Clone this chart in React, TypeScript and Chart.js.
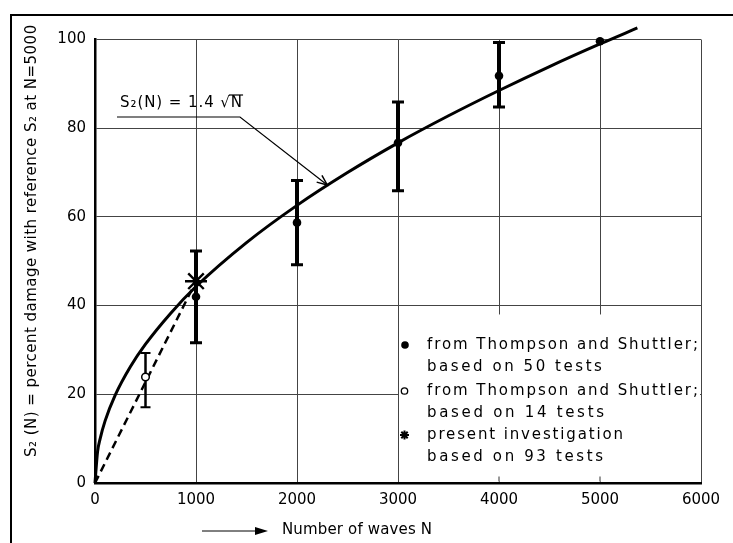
import React, { useEffect, useRef } from "react";
import { Chart, registerables } from "chart.js";

Chart.register(...registerables);

// ---- data ----
const curveN = [0, 25, 50, 100, 200, 350, 500, 750, 1000, 1500, 2000, 2500, 3000, 3500, 4000, 4500, 5000, 5370];
const curveS = [0, 7, 9.9, 14, 19.8, 26.2, 31.3, 38.3, 44.3, 54.2, 62.6, 70, 76.7, 82.8, 88.5, 93.9, 99, 102.6];

const dashN = [0, 1000];
const dashS = [0, 45.5];

const filledN = [1000, 2000, 3000, 4000, 5000];
const filledS = [42, 58.7, 76.7, 91.8, 99.6];
const filledLow = [31.6, 49.2, 65.9, 84.8, null];
const filledHigh = [52.3, 68.2, 85.9, 99.3, null];

const openN = [500];
const openS = [23.9];
const openLow = [17.1];
const openHigh = [29.3];

const starN = [1000];
const starS = [45.5];

const xTicks = [0, 1000, 2000, 3000, 4000, 5000, 6000];
const yTicks = [0, 20, 40, 60, 80, 100];

const curveLabel = "S₂(N) = 1.4 √N";
const arrowTipN = 2300;
const arrowTipS = 67.2;

const xTitle = "Number of waves N";
const yTitle = "S₂ (N) = percent damage with reference S₂ at N=5000";

const legendLines = [
  "from Thompson and Shuttler;",
  "based on 50 tests",
  "from Thompson and Shuttler;",
  "based on 14 tests",
  "present investigation",
  "based on 93 tests",
];

const FONT = "'DejaVu Sans', sans-serif";

function spacedText(ctx: CanvasRenderingContext2D, text: string, x: number, y: number, width: number) {
  (ctx as any).letterSpacing = "0px";
  const w = ctx.measureText(text).width;
  const n = Array.from(text).length;
  const gap = n > 1 ? (width - w) / (n - 1) : 0;
  (ctx as any).letterSpacing = gap.toFixed(2) + "px";
  ctx.fillText(text, x, y);
  return gap;
}

function drawAsterisk(ctx: CanvasRenderingContext2D, cx: number, cy: number, r: number, lw: number) {
  ctx.save();
  ctx.lineWidth = lw;
  ctx.strokeStyle = "#000";
  ctx.beginPath();
  for (let i = 0; i < 4; i++) {
    const a = (i * Math.PI) / 4;
    ctx.moveTo(cx - r * Math.cos(a), cy - r * Math.sin(a));
    ctx.lineTo(cx + r * Math.cos(a), cy + r * Math.sin(a));
  }
  ctx.stroke();
  ctx.restore();
}

const decor = {
  id: "decor",
  beforeDatasetsDraw(chart: any) {
    const { ctx } = chart;
    const x = chart.scales.x;
    const y = chart.scales.y;
    ctx.save();
    // legend box white-out (covers grid in lower right)
    const lx0 = x.getPixelForValue(3000) + 1;
    const lx1 = x.getPixelForValue(6000) - 1;
    const ly0 = y.getPixelForValue(38);
    const ly1 = y.getPixelForValue(0) - 1.5;
    ctx.fillStyle = "#fff";
    ctx.fillRect(lx0, ly0, lx1 - lx0, ly1 - ly0);
    // small ticks at the bottom inside the legend box
    ctx.strokeStyle = "#333";
    ctx.lineWidth = 1;
    [4000, 5000].forEach((v) => {
      const px = x.getPixelForValue(v);
      ctx.beginPath();
      ctx.moveTo(px, ly1);
      ctx.lineTo(px, ly1 - 5);
      ctx.stroke();
    });

    // error bars
    ctx.strokeStyle = "#000";
    const bar = (n: number, lo: number, hi: number, lw: number, capW: number, capLw: number) => {
      const px = x.getPixelForValue(n);
      const py0 = y.getPixelForValue(lo);
      const py1 = y.getPixelForValue(hi);
      ctx.lineWidth = lw;
      ctx.beginPath();
      ctx.moveTo(px, py0);
      ctx.lineTo(px, py1);
      ctx.stroke();
      ctx.lineWidth = capLw;
      ctx.beginPath();
      ctx.moveTo(px - capW / 2, py0);
      ctx.lineTo(px + capW / 2, py0);
      ctx.moveTo(px - capW / 2, py1);
      ctx.lineTo(px + capW / 2, py1);
      ctx.stroke();
    };
    filledN.forEach((n, i) => {
      const lo = filledLow[i];
      const hi = filledHigh[i];
      if (lo != null && hi != null) bar(n, lo, hi, 4, 12, 3);
    });
    openN.forEach((n, i) => bar(n, openLow[i], openHigh[i], 2.5, 10, 2));
    ctx.restore();
  },
  afterDraw(chart: any) {
    const { ctx } = chart;
    const x = chart.scales.x;
    const y = chart.scales.y;
    ctx.save();
    ctx.fillStyle = "#000";
    ctx.strokeStyle = "#000";

    // outer frame (left and top)
    ctx.lineWidth = 2;
    ctx.beginPath();
    ctx.moveTo(11, 543);
    ctx.lineTo(11, 15);
    ctx.lineTo(733, 15);
    ctx.stroke();

    // legend
    ctx.font = `15px ${FONT}`;
    ctx.textBaseline = "middle";
    ctx.textAlign = "left";
    const rows = [345, 367, 391, 413, 435, 457];
    const widths = [271, 175, 271, 177, 196, 176];
    legendLines.forEach((t, i) => spacedText(ctx, t, 427, rows[i], widths[i]));
    (ctx as any).letterSpacing = "0px";
    ctx.beginPath();
    ctx.arc(405, 345, 3.8, 0, Math.PI * 2);
    ctx.fill();
    ctx.lineWidth = 1.3;
    ctx.beginPath();
    ctx.arc(404.5, 391, 3.2, 0, Math.PI * 2);
    ctx.stroke();
    drawAsterisk(ctx, 404.5, 435, 4.5, 2);

    // curve annotation
    ctx.font = `15px ${FONT}`;
    ctx.textBaseline = "middle";
    const ax = 120;
    const ay = 103;
    const gap = spacedText(ctx, curveLabel, ax, ay, 122);
    const prefix = "S₂(N) = 1.4 √";
    (ctx as any).letterSpacing = gap.toFixed(2) + "px";
    const preW = ctx.measureText(prefix).width;
    const fullW = ctx.measureText(curveLabel).width;
    (ctx as any).letterSpacing = "0px";
    ctx.lineWidth = 1.2;
    ctx.beginPath();
    ctx.moveTo(ax + preW - gap - 1, ay - 8);
    ctx.lineTo(ax + fullW - gap + 1, ay - 8);
    ctx.stroke();
    // underline + leader with arrowhead
    const tx = x.getPixelForValue(arrowTipN);
    const ty = y.getPixelForValue(arrowTipS);
    ctx.lineWidth = 1.2;
    ctx.beginPath();
    ctx.moveTo(117, 117);
    ctx.lineTo(240, 117);
    ctx.lineTo(tx, ty);
    ctx.stroke();
    const ang = Math.atan2(ty - 117, tx - 240);
    ctx.lineWidth = 1.5;
    ctx.beginPath();
    ctx.moveTo(tx - 11 * Math.cos(ang - 0.4), ty - 11 * Math.sin(ang - 0.4));
    ctx.lineTo(tx, ty);
    ctx.lineTo(tx - 11 * Math.cos(ang + 0.4), ty - 11 * Math.sin(ang + 0.4));
    ctx.stroke();

    // x title with arrow
    ctx.lineWidth = 1;
    ctx.beginPath();
    ctx.moveTo(202, 531);
    ctx.lineTo(258, 531);
    ctx.stroke();
    ctx.beginPath();
    ctx.moveTo(268, 531);
    ctx.lineTo(255, 527);
    ctx.lineTo(255, 535);
    ctx.closePath();
    ctx.fill();
    ctx.font = `15px ${FONT}`;
    spacedText(ctx, xTitle, 282, 530, 150);

    // y title
    ctx.translate(32, 457);
    ctx.rotate(-Math.PI / 2);
    ctx.font = `15px ${FONT}`;
    spacedText(ctx, yTitle, 0, 0, 432);
    ctx.restore();
  },
};

export default function App() {
  const ref = useRef<HTMLCanvasElement>(null);
  useEffect(() => {
    const canvas = ref.current!;
    const chart = new Chart(canvas, {
      type: "scatter",
      data: {
        datasets: [
          {
            label: "present investigation based on 93 tests",
            data: starN.map((n, i) => ({ x: n, y: starS[i] })),
            pointStyle: "star",
            pointRadius: 11,
            borderColor: "#000",
            borderWidth: 2.4,
            backgroundColor: "#000",
          },
          {
            label: "from Thompson and Shuttler; based on 50 tests",
            data: filledN.map((n, i) => ({ x: n, y: filledS[i] })),
            pointRadius: 4.3,
            borderWidth: 0,
            backgroundColor: "#000",
            borderColor: "#000",
            clip: false,
          },
          {
            label: "from Thompson and Shuttler; based on 14 tests",
            data: openN.map((n, i) => ({ x: n, y: openS[i] })),
            pointRadius: 3.8,
            borderWidth: 1.5,
            backgroundColor: "#fff",
            borderColor: "#000",
          },
          {
            label: curveLabel,
            data: curveN.map((n, i) => ({ x: n, y: curveS[i] })),
            showLine: true,
            pointRadius: 0,
            borderColor: "#000",
            borderWidth: 3,
            cubicInterpolationMode: "monotone",
            clip: false,
          },
          {
            label: "dashed",
            data: dashN.map((n, i) => ({ x: n, y: dashS[i] })),
            showLine: true,
            pointRadius: 0,
            borderColor: "#000",
            borderWidth: 2.5,
            borderDash: [8, 5],
          },
        ],
      },
      options: {
        responsive: false,
        animation: false,
        devicePixelRatio: 1,
        layout: { padding: { left: 0, top: 39.5, right: 32, bottom: 0 } },
        plugins: { legend: { display: false }, tooltip: { enabled: false } },
        scales: {
          x: {
            type: "linear",
            min: 0,
            max: 6000,
            afterBuildTicks: (s: any) => {
              s.ticks = xTicks.map((v) => ({ value: v }));
            },
            afterFit: (s: any) => {
              s.height = 60;
            },
            ticks: {
              color: "#000",
              font: { family: FONT, size: 15 },
              padding: 8,
              maxRotation: 0,
              callback: (v: any) => String(v),
            },
            grid: { color: "#444", lineWidth: 1, drawTicks: false },
            border: { color: "#000", width: 2.5 },
          },
          y: {
            type: "linear",
            min: 0,
            max: 100,
            afterBuildTicks: (s: any) => {
              s.ticks = yTicks.map((v) => ({ value: v }));
            },
            afterFit: (s: any) => {
              s.width = 95;
            },
            ticks: { color: "#000", font: { family: FONT, size: 15 }, padding: 9, callback: (v: any) => String(v) },
            grid: { color: "#444", lineWidth: 1, drawTicks: false },
            border: { color: "#000", width: 2.5 },
          },
        },
      },
      plugins: [decor],
    } as any);
    return () => chart.destroy();
  }, []);
  return (
    <div style={{ position: "absolute", left: 0, top: 0, width: 733, height: 543, background: "#fff" }}>
      <canvas ref={ref} width={733} height={543} style={{ display: "block", width: 733, height: 543 }} />
    </div>
  );
}
